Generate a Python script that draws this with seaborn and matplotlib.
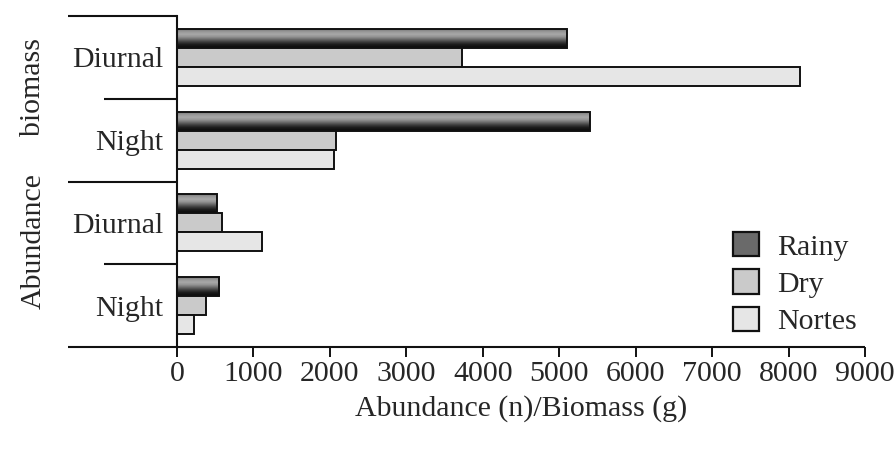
import numpy as np
import pandas as pd
import matplotlib
matplotlib.use("Agg")
import matplotlib.pyplot as plt
import matplotlib.transforms as mtransforms
from matplotlib.patches import Patch
import seaborn as sns

# ---- data ----
measures = ["biomass", "biomass", "Abundance", "Abundance"]
periods = ["Diurnal", "Night", "Diurnal", "Night"]
seasons = ["Rainy", "Dry", "Nortes"]
rainy = [5100, 5400, 520, 550]
dry = [3730, 2080, 590, 380]
nortes = [8150, 2060, 1115, 225]
xticks = [0, 1000, 2000, 3000, 4000, 5000, 6000, 7000, 8000, 9000]
xlabel = "Abundance (n)/Biomass (g)"

groups = [f"{m} {p}" for m, p in zip(measures, periods)]
rows = []
for s, vals in zip(seasons, [rainy, dry, nortes]):
    for g, v in zip(groups, vals):
        rows.append({"group": g, "season": s, "value": v})
df = pd.DataFrame(rows)

sns.set_style("white")
plt.rcParams["font.family"] = ["Liberation Serif", "DejaVu Serif"]
FS = 21.5

fig = plt.figure(figsize=(8.95, 4.49), dpi=100)
W, H = 895, 449
ax = fig.add_axes([177 / W, 1 - 347 / H, (865 - 177) / W, (347 - 16) / H])

colors = {"Rainy": "#5a5a5a", "Dry": "#cacaca", "Nortes": "#e6e6e6"}
sns.barplot(data=df, y="group", x="value", hue="season", order=groups,
            hue_order=seasons, orient="h", palette=colors, saturation=1,
            edgecolor="#111111", linewidth=1.4, width=0.69, legend=False, ax=ax)

ax.set_xlim(0, 9000)
ax.set_ylim(3.5, -0.5)

# gradient fill for the Rainy bars
grad = np.array([0.48, 0.60, 0.66, 0.58, 0.42, 0.25, 0.12, 0.06]).reshape(-1, 1)
for patch in ax.containers[0].patches:
    x0, y0 = patch.get_x(), patch.get_y()
    w, h = patch.get_width(), patch.get_height()
    im = ax.imshow(grad, cmap="gray", vmin=0, vmax=1, aspect="auto",
                   extent=[x0, x0 + w, y0 + h, y0], interpolation="bilinear",
                   zorder=patch.get_zorder() - 0.01)
    im.set_clip_path(patch)
    patch.set_facecolor("none")
ax.set_xlim(0, 9000)
ax.set_ylim(3.5, -0.5)

# axes styling
for sp in ["top", "right", "bottom"]:
    ax.spines[sp].set_visible(False)
ax.spines["left"].set_linewidth(1.5)
ax.spines["left"].set_color("#111111")

ax.set_xticks(xticks)
ax.set_xticklabels([str(t) for t in xticks], fontsize=FS)
ax.tick_params(axis="x", direction="out", length=7, width=1.4, color="#111111",
               pad=3, bottom=True)
ax.set_yticks(range(len(groups)))
ax.set_yticklabels(periods, fontsize=FS)
ax.tick_params(axis="y", length=0, pad=10)
ax.set_ylabel("")
ax.set_xlabel(xlabel, fontsize=FS, labelpad=6)

# group separator lines
trans = mtransforms.blended_transform_factory(ax.transAxes, ax.transData)
x_long = (68 - 177) / (865 - 177)
x_short = (104 - 177) / (865 - 177)
for yv, xs, xe in [(-0.5, x_long, 0), (0.5, x_short, 0), (1.5, x_long, 0),
                   (2.5, x_short, 0), (3.5, x_long, 1.0)]:
    ax.plot([xs, xe], [yv, yv], color="#111111", lw=1.5, transform=trans,
            clip_on=False, solid_capstyle="butt")

# outer category labels
fig.text(33 / W, 1 - 87 / H, "biomass", rotation=90, ha="center", va="center",
         fontsize=FS)
fig.text(34 / W, 1 - 241 / H, "Abundance", rotation=90, ha="center", va="center",
         fontsize=FS)

# legend
handles = [Patch(facecolor=("#6a6a6a" if s == "Rainy" else colors[s]),
                 edgecolor="#111111", linewidth=1.6, label=s) for s in seasons]
leg = ax.legend(handles=handles, loc="upper left",
                bbox_to_anchor=(733 / W, 1 - 232 / H),
                bbox_transform=fig.transFigure, frameon=False, fontsize=FS,
                handlelength=0.88, handleheight=0.88, handletextpad=0.6,
                labelspacing=0.3, borderpad=0, borderaxespad=0)

fig.savefig("out.png", dpi=100)
